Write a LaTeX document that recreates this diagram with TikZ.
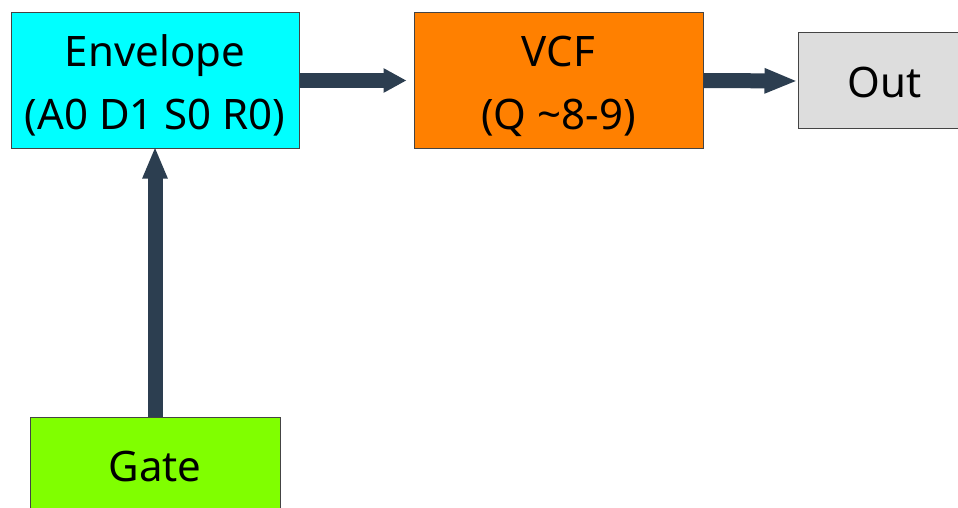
\documentclass[tikz,border=0pt]{standalone}
\usepackage{fontspec}
\setmainfont{Noto Sans}
\usetikzlibrary{arrows.meta}
\definecolor{arrowc}{HTML}{2C3E50}
\definecolor{boxline}{HTML}{444444}
\definecolor{envc}{HTML}{00FFFF}
\definecolor{vcfc}{HTML}{FF8000}
\definecolor{outc}{HTML}{DDDDDD}
\definecolor{gatec}{HTML}{80FF00}
\tikzset{
  blk/.style={draw=boxline, line width=1pt, rectangle, inner sep=0pt, align=center,
    font=\fontsize{42}{63}\selectfont},
  txt/.style={inner sep=0pt, align=center, font=\fontsize{42}{63}\selectfont},
  conn/.style={draw=arrowc, line width=15pt},
}
\begin{document}
\begin{tikzpicture}[x=1pt,y=-1pt]
\useasboundingbox (0,0) rectangle (958,508);
\begin{scope}
\clip (0,0) rectangle (958,508);
\node[blk, fill=envc, minimum width=288pt, minimum height=135pt] (env) at (155,80.5) {};
\node[txt] (envt) at ([yshift=-5pt]env.center) {Envelope\\(A0 D1 S0 R0)};
\node[blk, fill=vcfc, minimum width=289pt, minimum height=135pt] (vcf) at (558.5,80.5) {};
\node[txt] (vcft) at ([yshift=-6pt]vcf.center) {VCF\\(Q \textasciitilde 8-9)};
\node[blk, fill=outc, minimum width=173pt, minimum height=96pt] (out) at (884.5,81) {};
\node[txt] (outt) at ([yshift=-1pt]out.center) {Out};
\node[blk, fill=gatec, minimum width=250pt, minimum height=98pt] (gate) at (155,466) {};
\node[txt] (gatet) at ([yshift=-1pt]gate.center) {Gate};
\draw[conn, -{Triangle[length=23pt,width=23pt]}] (env.east) -- ([xshift=-7pt]vcf.west);
\draw[conn, -{Triangle[length=33pt,width=23pt]}] (vcf.east) -- (out.west);
\draw[conn, -{Triangle[length=32pt,width=23pt]}] (gate.north) -- ([yshift=2pt]env.south);
\end{scope}
\end{tikzpicture}
\end{document}
